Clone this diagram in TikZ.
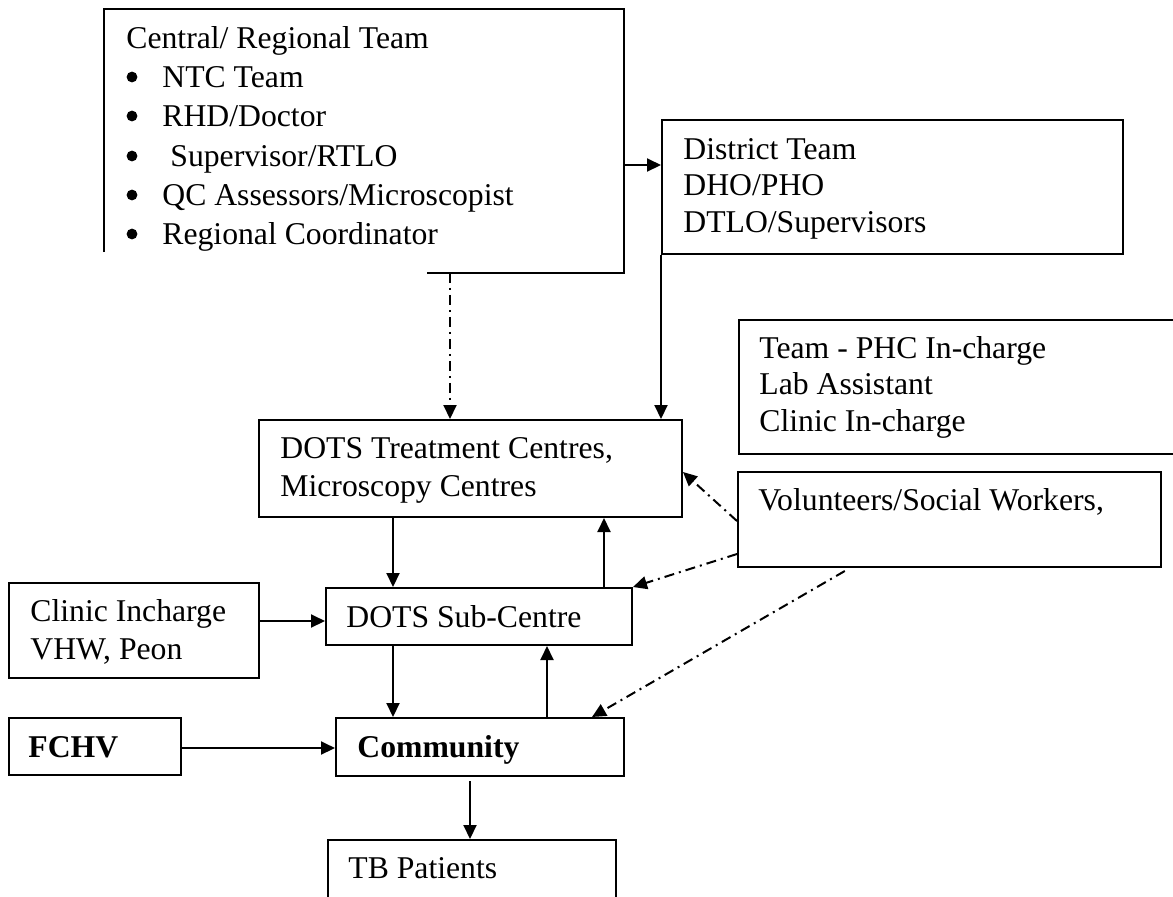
\documentclass[tikz,border=0pt]{standalone}
\usepackage{fontspec}
\setmainfont{Liberation Serif}
\usetikzlibrary{arrows.meta}
\tikzset{
  box/.style={draw, line width=1pt, rectangle, inner sep=0pt, anchor=north west},
  ghost/.style={rectangle, inner sep=0pt, anchor=north west},
  txt/.style={anchor=base west, inner sep=0pt, font=\fontsize{15.85pt}{19pt}\selectfont},
  btxt/.style={txt, font=\fontsize{15.85pt}{19pt}\selectfont\bfseries},
  bul/.style={circle, fill, inner sep=0pt, minimum size=5.4pt},
  arr/.style={line width=1pt, -{Triangle[length=7pt,width=6.5pt]}},
  dashdot/.style={dash pattern=on 5pt off 2.5pt on 1pt off 2.5pt}
}
\begin{document}
\begin{tikzpicture}[x=0.5pt,y=-0.5pt]
\useasboundingbox (0,0) rectangle (1173,896);

% boxes
\node[ghost, minimum width=259.5pt, minimum height=131.5pt] (central) at (104,9) {};
\draw[line width=1pt] (central.south west |- 0,252) -- (central.north west) -- (central.north east) -- (central.south east) -- (central.south east -| 427,0);
\node[box, minimum width=230.5pt, minimum height=67pt] (district) at (661,119) {};
\node[box, minimum width=223.5pt, minimum height=67pt] (team) at (738,319) {};
\node[box, minimum width=211.5pt, minimum height=48.5pt] (dots) at (258,419) {};
\node[box, minimum width=211.5pt, minimum height=47.5pt] (vol) at (737,471) {};
\node[box, minimum width=153pt, minimum height=28.5pt] (sub) at (325,587) {};
\node[box, minimum width=125pt, minimum height=47.5pt] (clinic) at (8,582) {};
\node[box, minimum width=86pt, minimum height=28.5pt] (fchv) at (8,717) {};
\node[box, minimum width=144pt, minimum height=29pt] (comm) at (335,717) {};
\node[box, minimum width=144pt, minimum height=45pt] (tb) at (327,839) {};

% texts
\node[txt] (c0) at (126,48) {Central/ Regional Team};
\node[bul] (b1) at (132,77) {};
\node[txt] (c1) at (162,87) {NTC Team};
\node[bul] (b2) at (132,116) {};
\node[txt] (c2) at (162,126) {RHD/Doctor};
\node[bul] (b3) at (132,156) {};
\node[txt] (c3) at (170,166) {Supervisor/RTLO};
\node[bul] (b4) at (132,195) {};
\node[txt] (c4) at (162,205) {QC Assessors/Microscopist};
\node[bul] (b5) at (132,234) {};
\node[txt] (c5) at (162,244) {Regional Coordinator};

\node[txt] (d1) at (683,159) {District Team};
\node[txt] (d2) at (683,195) {DHO/PHO};
\node[txt] (d3) at (683,232) {DTLO/Supervisors};

\node[txt] (t1) at (759,358) {Team - PHC In-charge};
\node[txt] (t2) at (759,394) {Lab Assistant};
\node[txt] (t3) at (759,431) {Clinic In-charge};

\node[txt] (m1) at (280,458) {DOTS Treatment Centres,};
\node[txt] (m2) at (280,496) {Microscopy Centres};

\node[txt] (v1) at (758,510) {Volunteers/Social Workers,};

\node[txt] (s1) at (346,627) {DOTS Sub-Centre};

\node[txt] (k1) at (30,621) {Clinic Incharge};
\node[txt] (k2) at (30,659) {VHW, Peon};

\node[btxt] (f1) at (28,757) {FCHV};
\node[btxt] (o1) at (357,757) {Community};

\node[txt] (p1) at (348,878) {TB Patients};

% connectors
\draw[arr] (central.east |- 0,165) -- (district.west |- 0,165);
\draw[arr, dashdot] (central.south -| 450,0) -- (dots.north -| 450,0);
\draw[arr] (district.south west) -- (dots.north -| district.west);
\draw[arr] (dots.south -| 393,0) -- (sub.north -| 393,0);
\draw[arr] (sub.north -| 604,0) -- (dots.south -| 604,0);
\draw[arr, dashdot] (vol.west |- 0,521) -- (dots.east |- 0,472);
\draw[arr, dashdot] (vol.west |- 0,554) -- (sub.north east);
\draw[arr, dashdot, shorten <=3pt] (vol.south -| 850,0) -- (comm.north -| 592,0);
\draw[arr] (clinic.east |- 0,621) -- (sub.west |- 0,621);
\draw[arr] (sub.south -| 393,0) -- (comm.north -| 393,0);
\draw[arr] (comm.north -| 547,0) -- (sub.south -| 547,0);
\draw[arr] (fchv.east |- 0,748) -- (comm.west |- 0,748);
\draw[arr, shorten <=2pt] (comm.south -| 470,0) -- (tb.north -| 470,0);
\end{tikzpicture}
\end{document}
